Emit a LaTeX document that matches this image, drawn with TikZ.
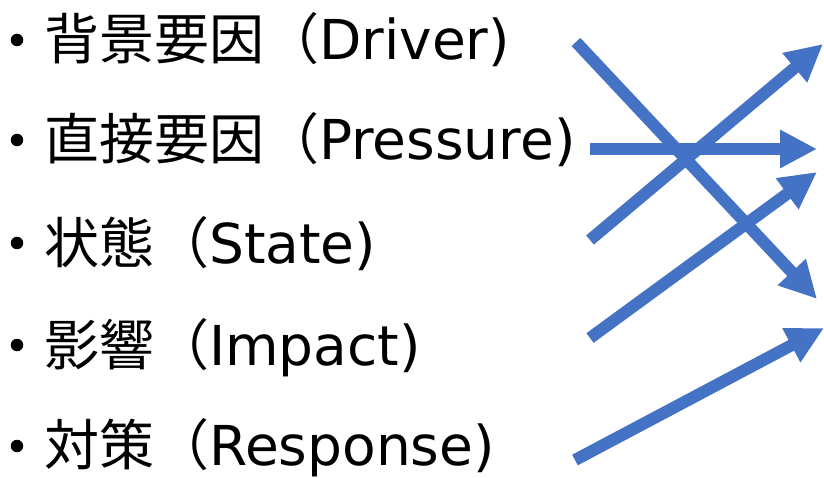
\documentclass[tikz,border=0pt]{standalone}
\usepackage{fontspec}
\setmainfont{DejaVu Sans}
\newfontfamily\cjk{Noto Sans CJK JP}
\usetikzlibrary{arrows.meta}
\definecolor{arrowblue}{HTML}{4472C4}
\tikzset{
  item/.style={anchor=base west, inner sep=0pt, font=\fontsize{55}{62}\selectfont},
  dot/.style={circle, fill=black, inner sep=0pt, minimum size=12.5pt},
  bigarrow/.style={draw=arrowblue, line width=12pt, -{Triangle[length=37pt,width=36pt]}}
}
\begin{document}
\begin{tikzpicture}[x=1pt,y=-1pt]
\useasboundingbox (0,0) rectangle (824,478);
% bullets
\node[dot] (b1) at (17,40) {};
\node[dot] (b2) at (17,140) {};
\node[dot] (b3) at (17,243) {};
\node[dot] (b4) at (17,345) {};
\node[dot] (b5) at (17,446) {};
% items
\node[item] (t1) at (44,60) {{\cjk 背景要因（}Driver)};
\node[item] (t2) at (44,160) {{\cjk 直接要因（}Pressure)};
\node[item] (t3) at (44,263) {{\cjk 状態（}State)};
\node[item] (t4) at (44,365) {{\cjk 影響（}Impact)};
\node[item] (t5) at (44,465) {{\cjk 対策（}Response)};
% arrow ends
\coordinate (sA) at (576,42);  \coordinate (eA) at (817,299);
\coordinate (sB) at (590,240); \coordinate (eB) at (823,44);
\coordinate (sC) at (590,149); \coordinate (eC) at (817,149);
\coordinate (sD) at (590,338); \coordinate (eD) at (817,172);
\coordinate (sE) at (575,460); \coordinate (eE) at (824,328);
\draw[bigarrow] (sA) -- (eA);
\draw[bigarrow] (sB) -- (eB);
\draw[bigarrow] (sC) -- (eC);
\draw[bigarrow] (sD) -- (eD);
\draw[bigarrow] (sE) -- (eE);
\end{tikzpicture}
\end{document}
